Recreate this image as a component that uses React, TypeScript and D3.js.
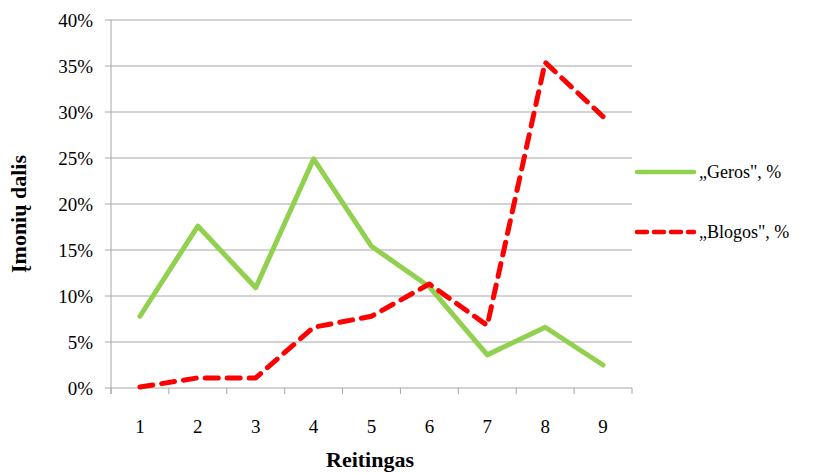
import React from 'react';
import * as d3 from 'd3';

const ratings = ['1', '2', '3', '4', '5', '6', '7', '8', '9'];
const geros = [7.8, 17.6, 10.9, 24.9, 15.4, 11.0, 3.6, 6.6, 2.5];
const blogos = [0.1, 1.1, 1.1, 6.6, 7.8, 11.3, 6.8, 35.4, 29.5];
const yTicks = [0, 5, 10, 15, 20, 25, 30, 35, 40];

const seriesList = [
    { name: '„Geros", %', values: geros, color: '#92d050', dash: null },
    { name: '„Blogos", %', values: blogos, color: '#ff0000', dash: '13 9' },
];

const App: React.FC = () => {
    const width = 814;
    const height = 473;
    const left = 111;
    const right = 632;
    const top = 20;
    const bottom = 388;
    const txt: React.CSSProperties = { fontFamily: 'Liberation Serif, Times New Roman, serif', fontSize: '19px' };
    const title: React.CSSProperties = { ...txt, fontSize: '22px', fontWeight: 'bold' };

    // band scale so the points sit in the middle of each category
    const xScale = d3.scaleBand<string>()
        .domain(ratings)
        .range([left, right]);

    const yScale = d3.scaleLinear()
        .domain([0, 40])
        .range([bottom, top]);

    const cx = (d: string) => (xScale(d) as number) + xScale.bandwidth() / 2;

    const line = d3.line<number>()
        .x((_, i) => cx(ratings[i]))
        .y((v) => yScale(v));

    const tickEdges = ratings.map(r => xScale(r) as number).concat([right]);

    return (
        <svg width={width} height={height} style={{ position: 'absolute', left: 0, top: 0 }}>
            <rect width={width} height={height} fill='#fff' />
            {/* horizontal gridlines and y ticks */}
            {yTicks.map(t => (
                <g key={t}>
                    <line x1={left - 6} x2={right} y1={yScale(t)} y2={yScale(t)} stroke='#a6a6a6' strokeWidth={1} />
                    <text x={93} y={yScale(t)} dy='0.35em' textAnchor='end' style={txt} fill='#000'>{t}%</text>
                </g>
            ))}
            {/* y axis line */}
            <line x1={left} x2={left} y1={top} y2={bottom + 6} stroke='#a6a6a6' strokeWidth={1} />
            {/* x ticks */}
            {tickEdges.map((x, i) => (
                <line key={i} x1={x} x2={x} y1={bottom} y2={bottom + 6} stroke='#a6a6a6' strokeWidth={1} />
            ))}
            {ratings.map(r => (
                <text key={r} x={cx(r)} y={433} textAnchor='middle' style={txt} fill='#000'>{r}</text>
            ))}

            {/* series */}
            {seriesList.map(s => (
                <path key={s.name} d={line(s.values) || ''} fill='none' stroke={s.color}
                    strokeWidth={5} strokeLinejoin='round' strokeLinecap='round'
                    strokeDasharray={s.dash || undefined} />
            ))}

            {/* legend */}
            {seriesList.map((s, i) => (
                <g key={s.name} transform={`translate(0, ${172 + i * 60})`}>
                    <line x1={637} x2={694} y1={0} y2={0} stroke={s.color} strokeWidth={4.5}
                        strokeLinecap='round' strokeDasharray={s.dash ? '10 7' : undefined} />
                    <text x={699} y={0} dy='0.35em' style={{ ...txt, fontSize: '18px' }} fill='#000'>{s.name}</text>
                </g>
            ))}

            {/* axis titles */}
            <text transform={`translate(26, ${214}) rotate(-90)`} textAnchor='middle'
                style={title} fill='#000'>Įmonių dalis</text>
            <text x={370} y={467} textAnchor='middle' style={title} fill='#000'>Reitingas</text>
        </svg>
    );
};

export default App;
